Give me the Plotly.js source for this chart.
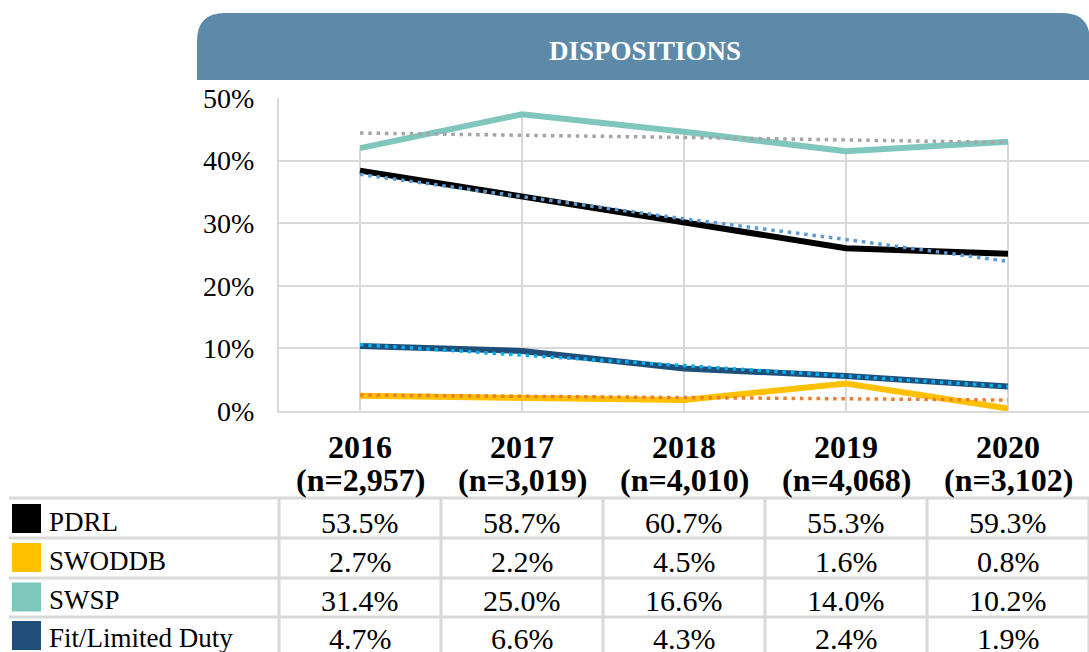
<!DOCTYPE html>
<html><head><meta charset="utf-8">
<script src="https://cdn.plot.ly/plotly-3.0.1.min.js"></script>
<style>html,body{margin:0;padding:0;background:#fff;}#chart{width:1089px;height:652px;}</style>
</head><body><div id="chart"></div>
<script>
// ---- data ----
const years = ['2016','2017','2018','2019','2020'];
const counts = ['(n=2,957)','(n=3,019)','(n=4,010)','(n=4,068)','(n=3,102)'];
const seriesNames = ['PDRL','SWODDB','SWSP','Fit/Limited Duty'];
const pdrlLine = [38.4, 34.2, 30.1, 26.0, 25.1];
const swoddbLine = [2.45, 2.0, 1.75, 4.4, 0.4];
const swspLine = [42.0, 47.4, 44.6, 41.5, 43.0];
const fitLine = [10.4, 9.6, 6.8, 5.6, 3.9];
const pdrlTrend = [37.8, 34.2, 30.7, 27.4, 23.9];
const swoddbTrend = [2.55, 2.35, 2.15, 1.95, 1.75];
const swspTrend = [44.4, 44.1, 43.7, 43.3, 42.9];
const fitTrend = [10.6, 8.9, 7.3, 5.5, 3.9];
const pdrlTable = [53.5, 58.7, 60.7, 55.3, 59.3];
const swoddbTable = [2.7, 2.2, 4.5, 1.6, 0.8];
const swspTable = [31.4, 25.0, 16.6, 14.0, 10.2];
const fitTable = [4.7, 6.6, 4.3, 2.4, 1.9];
const yTicks = [0, 10, 20, 30, 40, 50];
const chartTitle = 'DISPOSITIONS';

// ---- styling ----
const W = 1089, H = 652;
const M = {l: 279, r: 0, t: 98, b: 241};
const PW = W - M.l - M.r, PH = H - M.t - M.b;
const px = x => (x - M.l) / PW;
const py = y => (H - M.b - y) / PH;
const FONT = 'Liberation Serif, Times New Roman, serif';
const GRID = '#d9d9d9';
const lineColors = ['#000000', '#ffc000', '#7fc6bc', '#1f4e79'];
const trendColors = ['#5b9bd5', '#ed7d31', '#a5a5a5', '#00b0f0'];
const lines = [pdrlLine, swoddbLine, swspLine, fitLine];
const trends = [pdrlTrend, swoddbTrend, swspTrend, fitTrend];
const tables = [pdrlTable, swoddbTable, swspTable, fitTable];

const traces = [];
// drop lines from the highest series to the axis
const dx = [], dy = [];
years.forEach((yr, i) => {
  const top = Math.max(...lines.map(s => s[i]));
  dx.push(yr, yr, null); dy.push(0, top, null);
});
traces.push({x: dx, y: dy, type: 'scatter', mode: 'lines', line: {color: GRID, width: 2}, hoverinfo: 'skip', showlegend: false, connectgaps: false});

// draw order: SWSP, PDRL, Fit, SWODDB
const order = [2, 0, 3, 1];
order.forEach(k => {
  traces.push({x: years, y: lines[k], type: 'scatter', mode: 'lines', name: seriesNames[k],
    line: {color: lineColors[k], width: 6}, showlegend: false});
});
order.forEach(k => {
  traces.push({x: years, y: trends[k], type: 'scatter', mode: 'lines', name: seriesNames[k] + ' trend',
    line: {color: trendColors[k], width: 3.5, dash: '3.5px,4.8px'}, showlegend: false, hoverinfo: 'skip'});
});

const shapes = [];
const annotations = [];
// banner
const bx0 = 197, bx1 = 1090, by0 = 13, by1 = 80, r = 28;
shapes.push({type: 'path', xref: 'paper', yref: 'paper', layer: 'below',
  path: `M ${px(bx0)},${py(by1)} L ${px(bx0)},${py(by0 + r)} Q ${px(bx0)},${py(by0)} ${px(bx0 + r)},${py(by0)} ` +
        `L ${px(bx1 - r)},${py(by0)} Q ${px(bx1)},${py(by0)} ${px(bx1)},${py(by0 + r)} L ${px(bx1)},${py(by1)} Z`,
  fillcolor: '#5d8aa8', line: {width: 0}});
annotations.push({xref: 'paper', yref: 'paper', x: px(645), y: py(51), text: '<b>' + chartTitle + '</b>', showarrow: false,
  font: {family: FONT, size: 27, color: '#ffffff'}, xanchor: 'center', yanchor: 'middle'});

// table header
const n = years.length;
const colX = i => (i + 0.5) / n;
years.forEach((yr, i) => {
  annotations.push({xref: 'paper', yref: 'paper', x: colX(i), y: py(447), text: '<b>' + yr + '</b>', showarrow: false,
    font: {family: FONT, size: 32, color: '#000'}, xanchor: 'center', yanchor: 'middle'});
  annotations.push({xref: 'paper', yref: 'paper', x: colX(i), y: py(480), text: '<b>' + counts[i] + '</b>', showarrow: false,
    font: {family: FONT, size: 32, color: '#000'}, xanchor: 'center', yanchor: 'middle'});
});
// table grid
const rowTops = [498, 538, 578, 617];
rowTops.forEach(y => shapes.push({type: 'line', xref: 'paper', yref: 'paper', x0: px(9), x1: px(1089), y0: py(y), y1: py(y), line: {color: GRID, width: 3}}));
for (let k = 0; k <= n; k++) {
  shapes.push({type: 'line', xref: 'paper', yref: 'paper', x0: k / n, x1: k / n, y0: py(498), y1: py(660), line: {color: GRID, width: 3}});
}
// table rows
const rowText = [522, 561, 600, 638];
const rowSw = [518.5, 557.5, 597, 635.5];
seriesNames.forEach((nm, k) => {
  shapes.push({type: 'rect', xref: 'paper', yref: 'paper', x0: px(12), x1: px(41), y0: py(rowSw[k] - 14.5), y1: py(rowSw[k] + 14.5),
    fillcolor: lineColors[k], line: {width: 0}});
  annotations.push({xref: 'paper', yref: 'paper', x: px(47), y: py(rowText[k]), text: nm, showarrow: false,
    font: {family: FONT, size: 27, color: '#000'}, xanchor: 'left', yanchor: 'middle'});
  tables[k].forEach((v, i) => {
    annotations.push({xref: 'paper', yref: 'paper', x: colX(i), y: py(rowText[k]), text: v.toFixed(1) + '%', showarrow: false,
      font: {family: FONT, size: 30, color: '#000'}, xanchor: 'center', yanchor: 'middle'});
  });
});

const layout = {
  width: W, height: H, margin: M, paper_bgcolor: '#fff', plot_bgcolor: '#fff',
  showlegend: false,
  xaxis: {type: 'category', range: [-0.5, n - 0.5], showticklabels: false, showgrid: false, zeroline: false,
    showline: true, linecolor: GRID, linewidth: 2, ticks: '', fixedrange: true},
  yaxis: {range: [0, 50], tickvals: yTicks, ticktext: yTicks.map(v => v + '%'), showgrid: true, gridcolor: GRID, gridwidth: 2,
    zeroline: false, showline: true, linecolor: GRID, linewidth: 2, ticks: 'outside', ticklen: 17, tickcolor: 'rgba(0,0,0,0)',
    tickfont: {family: FONT, size: 28, color: '#000'}, fixedrange: true},
  shapes: shapes, annotations: annotations
};
Plotly.newPlot('chart', traces, layout, {displayModeBar: false, staticPlot: true});
</script></body></html>
